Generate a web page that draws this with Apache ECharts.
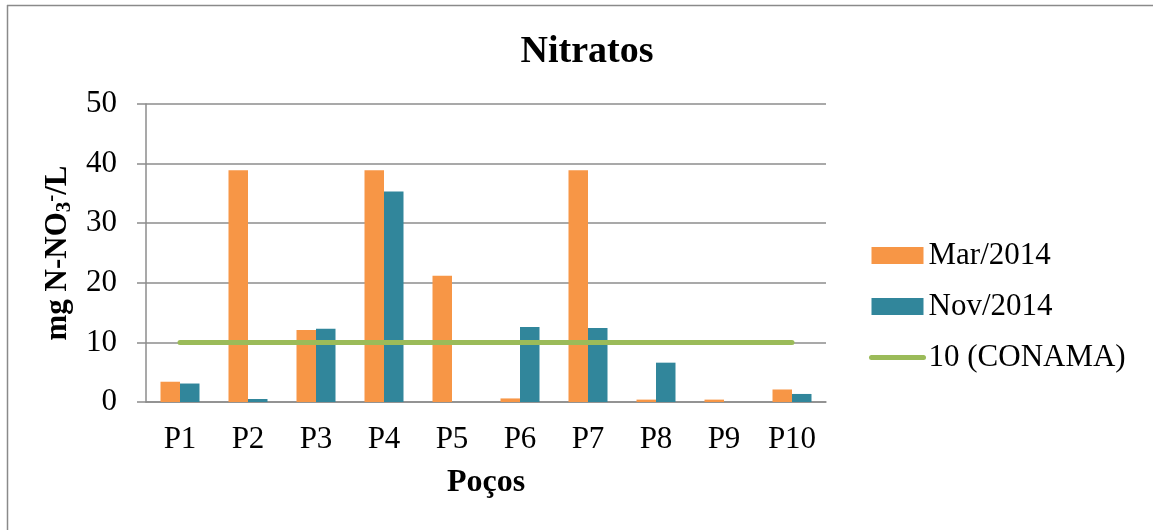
<!DOCTYPE html>
<html>
<head>
<meta charset="utf-8">
<script src="https://cdn.jsdelivr.net/npm/echarts@6/dist/echarts.min.js"></script>
<style>
  html, body { margin: 0; padding: 0; background: #fff; }
  #chart { width: 1153px; height: 530px; }
</style>
</head>
<body>
<div id="chart"></div>
<script>
// Wells sampled and nitrate concentrations (mg N-NO3-/L)
const wells = ['P1', 'P2', 'P3', 'P4', 'P5', 'P6', 'P7', 'P8', 'P9', 'P10'];
const mar2014 = [3.4, 38.9, 12.1, 38.9, 21.2, 0.6, 38.9, 0.4, 0.4, 2.1];
const nov2014 = [3.1, 0.5, 12.3, 35.3, 0, 12.6, 12.4, 6.6, 0, 1.35];
const conamaLimit = [10, 10, 10, 10, 10, 10, 10, 10, 10, 10];
const yTicks = [0, 10, 20, 30, 40, 50];

const serif = '"Liberation Serif", "Times New Roman", serif';
const gridGray = '#8c8c8c';
const limitGreen = '#9BBB59';

const chart = echarts.init(document.getElementById('chart'), null, { renderer: 'canvas' });

chart.setOption({
  animation: false,
  backgroundColor: '#fff',
  graphic: [
    { type: 'line', shape: { x1: 7, y1: 5.5, x2: 1153, y2: 5.5 }, style: { stroke: '#8a8a8a', lineWidth: 1.5 } },
    { type: 'line', shape: { x1: 7.5, y1: 5, x2: 7.5, y2: 530 }, style: { stroke: '#8a8a8a', lineWidth: 1.5 } }
  ],
  title: {
    text: 'Nitratos',
    left: 582,
    textAlign: 'center',
    top: 28,
    textStyle: { fontFamily: serif, fontWeight: 'bold', fontSize: 38, color: '#000' }
  },
  legend: {
    orient: 'vertical',
    left: 864,
    top: 235,
    itemWidth: 52,
    itemHeight: 17,
    itemGap: 20,
    textStyle: { fontFamily: serif, fontSize: 31, color: '#000' },
    data: [
      { name: 'Mar/2014', icon: 'rect' },
      { name: 'Nov/2014', icon: 'rect' },
      {
        name: '10 (CONAMA)',
        itemStyle: { opacity: 0 },
        lineStyle: { width: 5, color: limitGreen, cap: 'round' }
      }
    ]
  },
  grid: { left: 146, right: 327, top: 104, bottom: 128 },
  xAxis: {
    type: 'category',
    data: wells,
    name: 'Poços',
    nameLocation: 'middle',
    nameGap: 65,
    nameTextStyle: { fontFamily: serif, fontWeight: 'bold', fontSize: 32, color: '#000' },
    axisLine: { lineStyle: { color: gridGray, width: 1.5 } },
    axisTick: { show: false },
    axisLabel: { fontFamily: serif, fontSize: 31, color: '#000', margin: 22 }
  },
  yAxis: {
    type: 'value',
    min: 0,
    max: 50,
    interval: 10,
    name: 'mg N-NO{sub|3}{sup|-}/L',
    nameLocation: 'middle',
    nameGap: 63,
    nameRotate: 90,
    nameTextStyle: {
      fontFamily: serif, fontWeight: 'bold', fontSize: 31, color: '#000',
      rich: {
        sub: { fontFamily: serif, fontWeight: 'bold', fontSize: 21, color: '#000', padding: [14, 0, 0, 0] },
        sup: { fontFamily: serif, fontWeight: 'bold', fontSize: 21, color: '#000', padding: [0, 0, 12, 0] }
      }
    },
    axisLine: { show: true, lineStyle: { color: gridGray, width: 1.5 } },
    axisTick: { show: true, length: 9, lineStyle: { color: gridGray, width: 1.5 } },
    splitLine: { lineStyle: { color: gridGray, width: 1.5 } },
    axisLabel: {
      fontFamily: serif, fontSize: 31, color: '#000', margin: 29,
      formatter: v => (yTicks.includes(v) ? String(v) : '')
    }
  },
  series: [
    {
      name: 'Mar/2014',
      type: 'bar',
      data: mar2014,
      barWidth: 19.5,
      barGap: '0%',
      itemStyle: { color: '#F79646' }
    },
    {
      name: 'Nov/2014',
      type: 'bar',
      data: nov2014,
      barWidth: 19.5,
      barGap: '0%',
      itemStyle: { color: '#31869B' }
    },
    {
      name: '10 (CONAMA)',
      type: 'line',
      data: conamaLimit,
      symbol: 'none',
      lineStyle: { color: limitGreen, width: 5, cap: 'round' },
      itemStyle: { color: limitGreen },
      z: 5
    }
  ]
});
</script>
</body>
</html>
